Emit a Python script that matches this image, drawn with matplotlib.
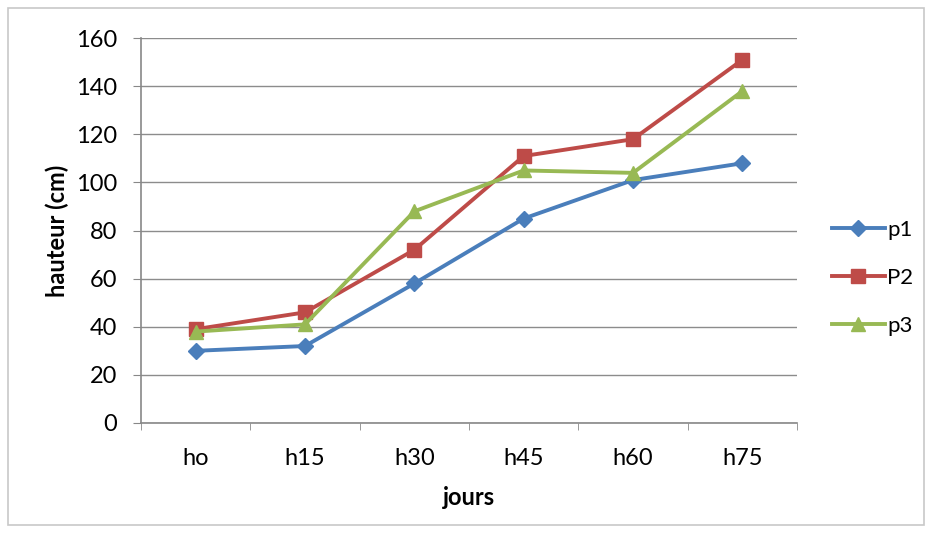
import matplotlib.pyplot as plt
from matplotlib.patches import Rectangle
from matplotlib.ticker import FixedLocator

# growth measurements (cm) per sampling day
jours = ["ho", "h15", "h30", "h45", "h60", "h75"]
p1 = [30, 32, 58, 85, 101, 108]
p2 = [39, 46, 72, 111, 118, 151]
p3 = [38, 41, 88, 105, 104, 138]

plt.rcParams['font.family'] = ['Lato', 'DejaVu Sans']

fig = plt.figure(figsize=(9.3, 5.38), dpi=100)
ax = fig.add_axes([0.1516, 0.2138, 0.7054, 0.7152])

# outer chart frame
fig.patches.append(Rectangle((0.009, 0.025), 0.985, 0.96, transform=fig.transFigure,
                             fill=False, edgecolor='#c8c8c8', linewidth=1.2))

x = list(range(len(jours)))
ax.plot(x, p1, color='#4A7EBB', linewidth=2.8, marker='D', markersize=8, label='p1')
ax.plot(x, p2, color='#BE4B48', linewidth=2.8, marker='s', markersize=10, label='P2')
ax.plot(x, p3, color='#98B954', linewidth=2.8, marker='^', markersize=10, label='p3')

ax.set_xlim(-0.5, len(jours) - 0.5)
ax.set_ylim(0, 160)
ax.set_yticks(range(0, 161, 20))
ax.set_xticks(x)
ax.set_xticklabels(jours)
ax.xaxis.set_minor_locator(FixedLocator([i - 0.5 for i in range(len(jours) + 1)]))
ax.tick_params(axis='x', which='major', length=0, pad=18, labelsize=17)
ax.tick_params(axis='x', which='minor', length=5, color='#888888', direction='out')
ax.tick_params(axis='y', length=6, color='#888888', labelsize=17, pad=11)

ax.grid(axis='y', color='#8c8c8c', linewidth=1)
ax.set_axisbelow(True)
for side in ('top', 'right'):
    ax.spines[side].set_visible(False)
for side in ('left', 'bottom'):
    ax.spines[side].set_color('#888888')
    ax.spines[side].set_linewidth(1.2)

ax.set_xlabel('jours', fontsize=17, fontweight='bold', labelpad=12)
ax.set_ylabel('hauteur (cm)', fontsize=17, fontweight='bold', labelpad=5)

ax.legend(loc='center left', bbox_to_anchor=(1.053, 0.377), frameon=False,
          fontsize=16, handlelength=2.4, handletextpad=0.1, labelspacing=1.25,
          borderpad=0, borderaxespad=0)

fig.savefig('out.png', dpi=100, facecolor='white')
